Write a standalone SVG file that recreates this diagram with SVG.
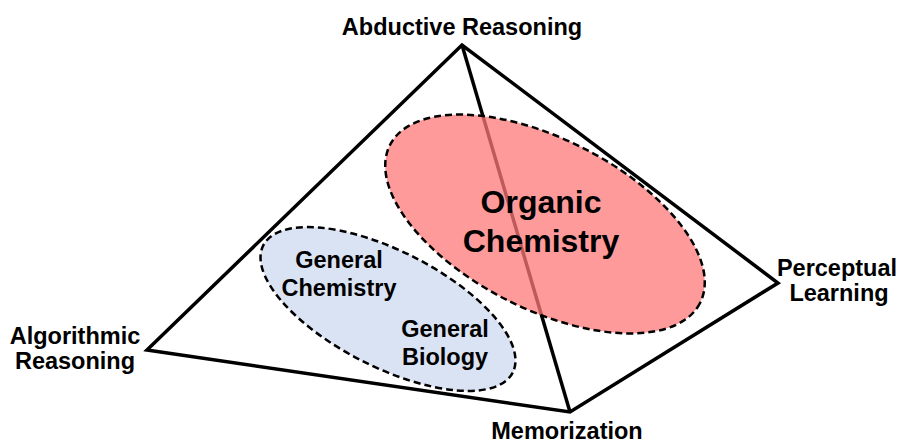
<svg xmlns="http://www.w3.org/2000/svg" width="897" height="443" viewBox="0 0 897 443">
<style>
.lbl{font-family:"Liberation Sans",Arial,sans-serif;font-weight:bold;font-size:23.5px;fill:#000;text-anchor:middle}
.big{font-size:32px}
.edge{stroke:#000;stroke-width:3.5;fill:none;stroke-linejoin:miter;stroke-linecap:butt}
.dash{stroke:#000;stroke-width:2.5;stroke-dasharray:7 4}
</style>
<rect width="897" height="443" fill="#fff"/>
<g id="connectors">
<path class="edge" d="M147,350 L462,45 L778,283 L570,412 Z"/>
<path class="edge" d="M462,45 L570,412"/>
</g>
<g id="general">
<ellipse class="dash" cx="388" cy="309" rx="140" ry="58" transform="rotate(27 388 309)" fill="#dae3f3"/>
<text class="lbl" x="339" y="268">General</text>
<text class="lbl" x="339" y="296">Chemistry</text>
<text class="lbl" x="445" y="337">General</text>
<text class="lbl" x="445" y="365">Biology</text>
</g>
<g id="organic">
<ellipse class="dash" cx="545" cy="224" rx="174" ry="85" transform="rotate(27 545 224)" fill="#ff7878" fill-opacity="0.75"/>
<text class="lbl big" x="541" y="213">Organic</text>
<text class="lbl big" x="541" y="252">Chemistry</text>
</g>
<g id="abductive"><text class="lbl" x="462" y="35">Abductive Reasoning</text></g>
<g id="algorithmic"><text class="lbl" x="75" y="344">Algorithmic</text><text class="lbl" x="75" y="369">Reasoning</text></g>
<g id="memorization"><text class="lbl" x="567" y="439">Memorization</text></g>
<g id="perceptual"><text class="lbl" x="837" y="276">Perceptual</text><text class="lbl" x="839" y="301">Learning</text></g>
</svg>
